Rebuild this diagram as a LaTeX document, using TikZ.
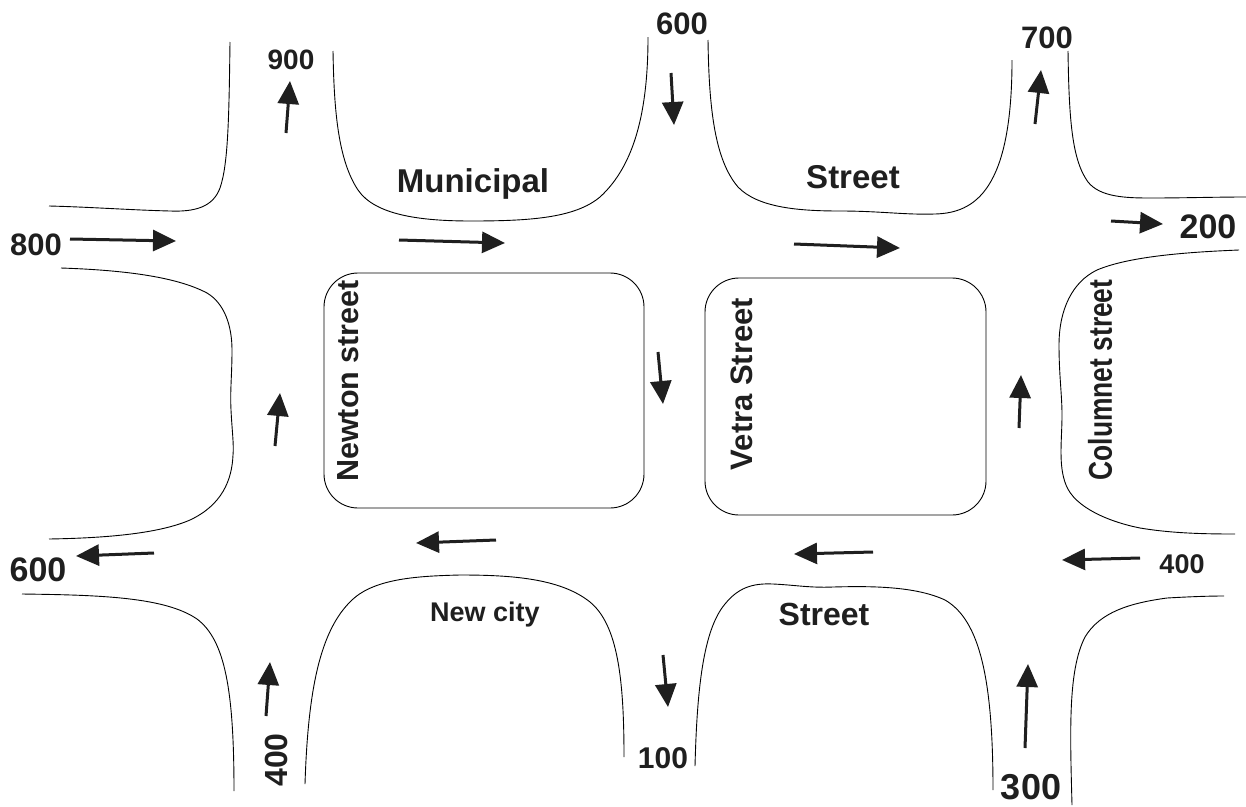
\documentclass[tikz,border=0pt]{standalone}
\usepackage{fontspec}
\setmainfont{Liberation Sans}
\usetikzlibrary{arrows.meta}
\tikzset{
  road/.style = {draw, line width=0.9pt},
  flow/.style = {draw, -{Triangle[length=23pt,width=21pt]}, line width=3pt, color=black!88},
  lab/.style = {font=\bfseries\fontsize{#1}{#1}\selectfont, text=black!88, inner sep=0pt},
  lab/.default = 27
}
\begin{document}
\begin{tikzpicture}[x=1pt, y=-1pt]
\useasboundingbox (0,0) rectangle (1246,806);
% corners of the streets
\draw[road] (230,42) .. controls (229,120) and (228,165) .. (220,188) .. controls (213,207) and (195,212) .. (170,211) .. controls (130,210) and (90,207) .. (49,206);
\draw[road] (333,51) .. controls (334,110) and (338,160) .. (358,190) .. controls (375,215) and (420,221) .. (471,221) .. controls (530,221) and (575,218) .. (600,197) .. controls (635,165) and (648,110) .. (648,37);
\draw[road] (708,40) .. controls (709,110) and (715,160) .. (738,187) .. controls (758,208) and (800,211) .. (840,211) .. controls (880,211) and (905,215) .. (935,214) .. controls (975,213) and (1012,190) .. (1012,60);
\draw[road] (1068,51) .. controls (1069,120) and (1072,160) .. (1088,182) .. controls (1100,197) and (1125,198) .. (1150,198) .. controls (1185,198) and (1215,197) .. (1246,197);
\draw[road] (61,268) .. controls (120,270) and (175,276) .. (207,293) .. controls (224,303) and (232,325) .. (232,350) .. controls (232,375) and (230,390) .. (231,410) .. controls (232,430) and (234,445) .. (233,455) .. controls (232,480) and (222,505) .. (190,520) .. controls (160,533) and (110,538) .. (49,539);
\draw[road] (22,594) .. controls (100,595) and (165,597) .. (197,619) .. controls (225,640) and (234,690) .. (234,791);
\draw[road] (305,784) .. controls (308,690) and (320,630) .. (352,600) .. controls (375,578) and (420,576) .. (460,575) .. controls (510,575) and (560,578) .. (590,602) .. controls (618,625) and (624,680) .. (624,757);
\draw[road] (695,766) .. controls (697,690) and (703,630) .. (725,604) .. controls (738,588) and (752,583) .. (773,584) .. controls (795,585) and (810,588) .. (833,587) .. controls (870,586) and (915,586) .. (945,600) .. controls (980,620) and (993,680) .. (993,790);
\draw[road] (1072,805) .. controls (1070,730) and (1068,670) .. (1085,637) .. controls (1100,612) and (1130,603) .. (1167,598) .. controls (1185,597) and (1205,596) .. (1224,596);
\draw[road] (1239,250) .. controls (1190,252) and (1130,256) .. (1097,270) .. controls (1072,282) and (1059,310) .. (1059,345) .. controls (1059,375) and (1062,395) .. (1062,415) .. controls (1062,440) and (1058,465) .. (1066,485) .. controls (1075,508) and (1110,522) .. (1140,528) .. controls (1170,533) and (1200,534) .. (1235,534);
% blocks
\draw[road, rounded corners=34pt] (324,273) rectangle (644,508);
\draw[road, rounded corners=34pt] (705,278) rectangle (986,515);
% flow arrows
\draw[flow] (70,239) -- (176,241);
\draw[flow] (399,240) -- (505,243);
\draw[flow] (794,244) -- (900,248);
\draw[flow] (1111,221) -- (1163,224);
\draw[flow] (286,133) -- (290,81);
\draw[flow] (671,73) -- (674,125);
\draw[flow] (1035,124) -- (1041,70);
\draw[flow] (658,352) -- (663,404);
\draw[flow] (275,446) -- (280,393);
\draw[flow] (1019,428) -- (1021,375);
\draw[flow] (154,553) -- (76,556);
\draw[flow] (496,540) -- (416,543);
\draw[flow] (873,552) -- (794,554);
\draw[flow] (1140,558) -- (1062,560);
\draw[flow] (266,716) -- (270,662);
\draw[flow] (663,655) -- (668,707);
\draw[flow] (1025,748) -- (1028,664);
% labels
\node[lab=31] (n800) at (36,245) {800};
\node[lab=28] (n900) at (291,60) {900};
\node[lab=31] (n600t) at (682,24) {600};
\node[lab=31] (n700) at (1047,38) {700};
\node[lab=34] (n200) at (1208,227) {200};
\node[lab=34] (n600l) at (38,570) {600};
\node[lab=27] (n400r) at (1182,564) {400};
\node[lab=30] (n100) at (663,758) {100};
\node[lab=36] (n300) at (1031,787) {300};
\node[lab=32, rotate=90] (n400b) at (276,760) {400};
\node[lab=33] (municipal) at (473,184) {Municipal};
\node[lab=33] (street1) at (853,177) {Street};
\node[lab=27] (newcity) at (485,615) {New city};
\node[lab=32] (street2) at (824,614) {Street};
\node[lab=30.5, rotate=90] (newton) at (348,381) {Newton street};
\node[lab=31, rotate=90] (vetra) at (742,384) {Vetra Street};
\node[lab=33, rotate=90, xscale=0.8] (columnet) at (1100,380) {Columnet street};
\end{tikzpicture}
\end{document}
